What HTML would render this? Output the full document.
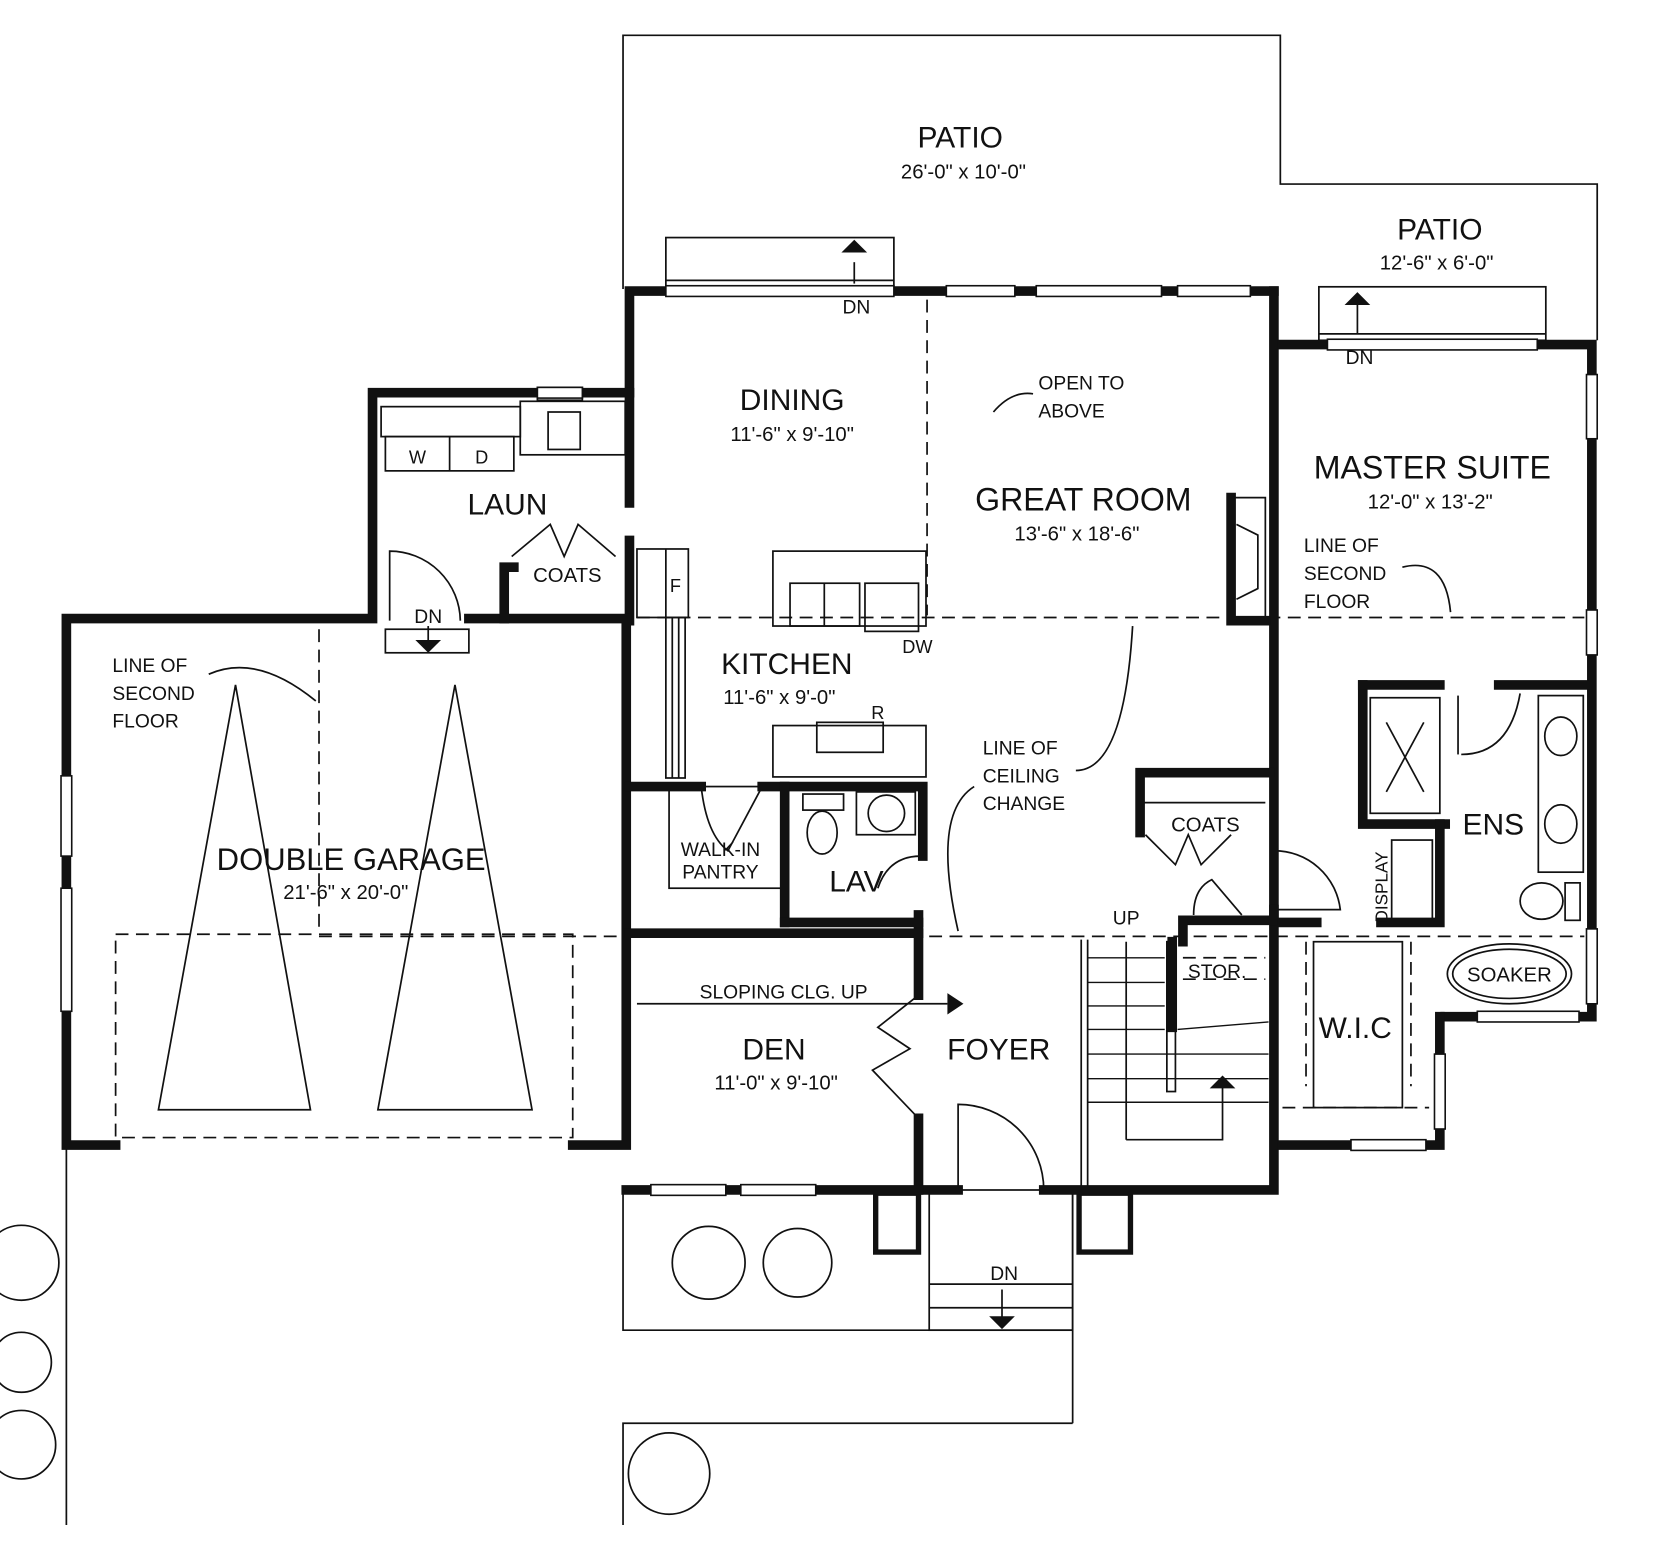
<!DOCTYPE html>
<html><head><meta charset="utf-8"><style>
html,body{margin:0;padding:0;background:#fff}
svg{display:block}
text{font-family:"Liberation Sans",sans-serif;fill:#111}
</style></head><body>
<svg width="1670" height="1541" viewBox="0 0 1560 1440" preserveAspectRatio="none" xmlns="http://www.w3.org/2000/svg">
<g fill="none" stroke="#111" stroke-width="1.6">
<!-- patio / lot lines -->
<polyline points="582,270 582,33 1196,33 1196,172 1492,172 1492,318"/>
<rect x="622" y="222" width="213" height="46"/>
<line x1="622" y1="262" x2="835" y2="262"/>
<rect x="1232" y="268" width="212" height="50"/>
<line x1="1232" y1="312" x2="1444" y2="312"/>
<line x1="62" y1="1070" x2="62" y2="1425"/>
<polyline points="582,1112 582,1243 1002,1243"/>
<line x1="1002" y1="1112" x2="1002" y2="1330"/>
<polyline points="582,1425 582,1330 1002,1330"/>
<rect x="868" y="1112" width="134" height="131"/>
<line x1="868" y1="1200" x2="1002" y2="1200"/>
<line x1="868" y1="1222" x2="1002" y2="1222"/>
<!-- dashed lines -->
<g stroke-dasharray="12,7">
<line x1="866" y1="280" x2="866" y2="575"/>
<line x1="595" y1="577" x2="1480" y2="577"/>
<line x1="298" y1="588" x2="298" y2="873"/>
<line x1="298" y1="875" x2="1480" y2="875"/>
<rect x="108" y="873" width="427" height="190"/>
<line x1="1105" y1="895" x2="1182" y2="895"/>
<line x1="1105" y1="915" x2="1182" y2="915"/>
<line x1="1220" y1="880" x2="1220" y2="1015"/>
<line x1="1318" y1="880" x2="1318" y2="1015"/>
<line x1="1198" y1="1035" x2="1335" y2="1035"/>
</g>
<!-- garage doors -->
<polygon points="220,640 148,1037 290,1037"/>
<polygon points="425,640 353,1037 497,1037"/>
<!-- laundry -->
<rect x="360" y="408" width="120" height="32"/>
<line x1="420" y1="408" x2="420" y2="440"/>
<rect x="356" y="380" width="130" height="28"/>
<rect x="486" y="375" width="98" height="50"/>
<rect x="512" y="385" width="30" height="35"/>
<rect x="502" y="362" width="42" height="12"/>
<path d="M364,580 L364,515 A66,66 0 0 1 430,580"/>
<rect x="360" y="588" width="78" height="22"/>
<polyline points="478,520 514,490 527,520 540,490 575,520"/>
<!-- kitchen -->
<rect x="595" y="513" width="48" height="64"/>
<line x1="622" y1="513" x2="622" y2="577"/>
<rect x="622" y="577" width="18" height="150"/>
<line x1="628" y1="577" x2="628" y2="727"/>
<line x1="634" y1="577" x2="634" y2="727"/>
<rect x="722" y="515" width="143" height="70"/>
<rect x="738" y="545" width="65" height="40"/>
<line x1="770" y1="545" x2="770" y2="585"/>
<rect x="808" y="545" width="50" height="45"/>
<rect x="722" y="678" width="143" height="48"/>
<rect x="763" y="675" width="62" height="28"/>
<!-- pantry -->
<rect x="625" y="735" width="108" height="95"/>
<path d="M655,735 Q660,780 680,795 L712,735"/>
<!-- lav -->
<rect x="750" y="742" width="38" height="15"/>
<ellipse cx="768" cy="778" rx="14" ry="20"/>
<rect x="800" y="740" width="55" height="40"/>
<circle cx="828" cy="760" r="17"/>
<path d="M860,800 Q830,800 820,830"/>
<!-- fireplace -->
<polyline points="1150,465 1182,465 1182,580 1150,580"/>
<polyline points="1155,490 1175,500 1175,550 1155,560"/>
<!-- coats foyer -->
<line x1="1065" y1="750" x2="1182" y2="750"/>
<polyline points="1070,780 1098,808 1110,780 1122,808 1150,780"/>
<path d="M1190,795 A62,62 0 0 1 1252,850 L1190,850"/>
<path d="M1115,855 Q1115,830 1132,822 L1160,855"/>
<!-- stairs -->
<line x1="1010" y1="878" x2="1010" y2="1110"/>
<line x1="1016" y1="878" x2="1016" y2="1110"/>
<g stroke-width="1.3">
<line x1="1016" y1="895" x2="1088" y2="895"/><line x1="1016" y1="918" x2="1088" y2="918"/>
<line x1="1016" y1="940" x2="1088" y2="940"/><line x1="1016" y1="962" x2="1088" y2="962"/>
<line x1="1016" y1="985" x2="1185" y2="985"/><line x1="1016" y1="1008" x2="1185" y2="1008"/>
<line x1="1016" y1="1030" x2="1185" y2="1030"/><line x1="1100" y1="962" x2="1185" y2="955"/>
</g>
<rect x="1090" y="880" width="8" height="140"/>
<line x1="1052" y1="880" x2="1052" y2="1065"/>
<polyline points="1052,1065 1142,1065 1142,1012"/>
<!-- W.I.C -->
<rect x="1227" y="880" width="83" height="155"/>
<!-- ensuite -->
<rect x="1280" y="652" width="65" height="108"/>
<line x1="1295" y1="675" x2="1330" y2="740"/><line x1="1330" y1="675" x2="1295" y2="740"/>
<path d="M1365,705 Q1410,705 1420,648"/>
<line x1="1362" y1="650" x2="1362" y2="705"/>
<rect x="1437" y="650" width="42" height="165"/>
<ellipse cx="1458" cy="688" rx="15" ry="18"/>
<ellipse cx="1458" cy="770" rx="15" ry="18"/>
<rect x="1462" y="825" width="14" height="35"/>
<ellipse cx="1440" cy="842" rx="20" ry="17"/>
<rect x="1300" y="785" width="38" height="80"/>
<ellipse cx="1410" cy="910" rx="58" ry="28"/>
<ellipse cx="1410" cy="910" rx="53" ry="23"/>
<!-- porch piers -->
<rect x="818" y="1115" width="40" height="55" stroke-width="5"/>
<rect x="1008" y="1115" width="48" height="55" stroke-width="5"/>
<!-- foyer door / den door -->
<path d="M895,1112 L895,1032 A80,80 0 0 1 975,1112"/>
<polyline points="858,930 820,960 850,980 815,1000 858,1045"/>
<!-- trees -->
<circle cx="662" cy="1180" r="34"/><circle cx="745" cy="1180" r="32"/>
<circle cx="20" cy="1180" r="35"/><circle cx="20" cy="1273" r="28"/><circle cx="20" cy="1350" r="32"/>
<circle cx="625" cy="1377" r="38"/>
<!-- arrows curves -->
<path d="M195,630 Q240,610 295,655"/>
<path d="M1310,530 Q1350,520 1355,572"/>
<path d="M1005,720 Q1050,720 1058,585"/>
<path d="M895,870 Q870,760 910,735"/>
<path d="M928,385 Q945,365 965,368"/>
<line x1="595" y1="938" x2="885" y2="938"/>
<line x1="798" y1="245" x2="798" y2="265"/><line x1="1268" y1="285" x2="1268" y2="312"/>
<line x1="400" y1="585" x2="400" y2="600"/><line x1="936" y1="1205" x2="936" y2="1232"/>
</g>
<!-- arrowheads -->
<g fill="#111">
<polygon points="885,928 900,938 885,948"/>
<polygon points="786,236 798,224 810,236"/>
<polygon points="1256,285 1268,273 1280,285"/>
<polygon points="388,598 400,610 412,598"/>
<polygon points="924,1230 936,1242 948,1230"/>
<polygon points="1130,1017 1142,1005 1154,1017"/>
</g>
<!-- thick walls -->
<g fill="none" stroke="#111" stroke-width="9" stroke-linecap="square">
<polyline points="622,272 588,272 588,470"/>
<line x1="588" y1="505" x2="588" y2="580"/>
<line x1="835" y1="272" x2="1190" y2="272"/>
<polyline points="1190,272 1190,1112 975,1112"/>
<polyline points="895,1112 858,1112 858,1045"/>
<line x1="858" y1="930" x2="858" y2="862"/>
<polyline points="1198,322 1240,322"/><polyline points="1436,322 1487,322 1487,950 1350,950"/>
<polyline points="588,367 348,367 348,578 62,578 62,1070 108,1070"/>
<polyline points="535,1070 585,1070 585,578 438,578"/>
<polyline points="471,578 471,530 480,530"/>
<polyline points="585,1112 858,1112"/>
<line x1="588" y1="872" x2="858" y2="872"/>
<polyline points="588,735 655,735"/><polyline points="712,735 862,735 862,800"/>
<line x1="733" y1="735" x2="733" y2="862"/>
<polyline points="858,855 858,862 733,862"/>
<polyline points="1186,722 1065,722 1065,778"/>
<polyline points="1190,850 1190,860 1105,860 1105,880"/>
<polyline points="1273,640 1273,770 1350,770"/><polyline points="1273,640 1345,640"/><polyline points="1400,640 1480,640"/>
<polyline points="1345,770 1345,862 1290,862"/>
<line x1="1198" y1="862" x2="1230" y2="862"/>
<polyline points="1345,950 1345,1070 1198,1070"/>
<line x1="1095" y1="880" x2="1095" y2="960"/>
<polyline points="1150,465 1150,580 1182,580"/>
</g>
<!-- windows (white gaps with double lines) -->
<g fill="#fff" stroke="#111" stroke-width="1.5">
<rect x="884" y="267" width="64" height="10"/><rect x="968" y="267" width="117" height="10"/><rect x="1100" y="267" width="68" height="10"/>
<rect x="622" y="267" width="213" height="10"/><rect x="1240" y="317" width="196" height="10"/>
<rect x="57" y="725" width="10" height="75"/><rect x="57" y="830" width="10" height="115"/>
<rect x="1482" y="350" width="10" height="60"/><rect x="1482" y="570" width="10" height="42"/><rect x="1482" y="868" width="10" height="70"/>
<rect x="608" y="1107" width="70" height="10"/><rect x="692" y="1107" width="70" height="10"/>
<rect x="1380" y="945" width="95" height="10"/><rect x="1262" y="1065" width="70" height="10"/>
<rect x="1340" y="985" width="10" height="70"/>
<rect x="502" y="362" width="42" height="10"/>
</g>
<!-- text -->
<g text-anchor="middle">
<text x="897" y="138" font-size="28">PATIO</text>
<text x="900" y="167" font-size="19">26'-0" x 10'-0"</text>
<text x="1345" y="224" font-size="28">PATIO</text>
<text x="1342" y="252" font-size="19">12'-6" x 6'-0"</text>
<text x="740" y="383" font-size="28">DINING</text>
<text x="740" y="412" font-size="19">11'-6" x 9'-10"</text>
<text x="1012" y="477" font-size="30">GREAT ROOM</text>
<text x="1006" y="505" font-size="19">13'-6" x 18'-6"</text>
<text x="1338" y="447" font-size="30">MASTER SUITE</text>
<text x="1336" y="475" font-size="19">12'-0" x 13'-2"</text>
<text x="474" y="481" font-size="28">LAUN</text>
<text x="735" y="630" font-size="28">KITCHEN</text>
<text x="728" y="658" font-size="19">11'-6" x 9'-0"</text>
<text x="328" y="813" font-size="29">DOUBLE GARAGE</text>
<text x="323" y="840" font-size="19">21'-6" x 20'-0"</text>
<text x="723" y="990" font-size="28">DEN</text>
<text x="725" y="1018" font-size="19">11'-0" x 9'-10"</text>
<text x="933" y="990" font-size="28">FOYER</text>
<text x="1266" y="970" font-size="28">W.I.C</text>
<text x="1395" y="780" font-size="28">ENS</text>
<text x="800" y="833" font-size="28">LAV</text>
<text x="530" y="544" font-size="19">COATS</text>
<text x="1126" y="777" font-size="19">COATS</text>
<text x="1410" y="917" font-size="19">SOAKER</text>
<text x="1137" y="914" font-size="18">STOR.</text>
<text x="732" y="933" font-size="18">SLOPING CLG. UP</text>
<text x="673" y="800" font-size="18">WALK-IN</text>
<text x="673" y="821" font-size="18">PANTRY</text>
<text x="800" y="293" font-size="18">DN</text>
<text x="1270" y="340" font-size="18">DN</text>
<text x="400" y="582" font-size="18">DN</text>
<text x="938" y="1196" font-size="18">DN</text>
<text x="1052" y="864" font-size="18">UP</text>
<text x="857" y="610" font-size="17">DW</text>
<text x="820" y="672" font-size="17">R</text>
<text x="631" y="553" font-size="17">F</text>
<text x="390" y="433" font-size="17">W</text>
<text x="450" y="433" font-size="17">D</text>
</g>
<g font-size="18">
<text x="970" y="364">OPEN TO</text><text x="970" y="390">ABOVE</text>
<text x="105" y="628">LINE OF</text><text x="105" y="654">SECOND</text><text x="105" y="680">FLOOR</text>
<text x="1218" y="516">LINE OF</text><text x="1218" y="542">SECOND</text><text x="1218" y="568">FLOOR</text>
<text x="918" y="705">LINE OF</text><text x="918" y="731">CEILING</text><text x="918" y="757">CHANGE</text>
<text transform="translate(1296,862) rotate(-90)" font-size="16">DISPLAY</text>
</g>
</svg>
</body></html>
